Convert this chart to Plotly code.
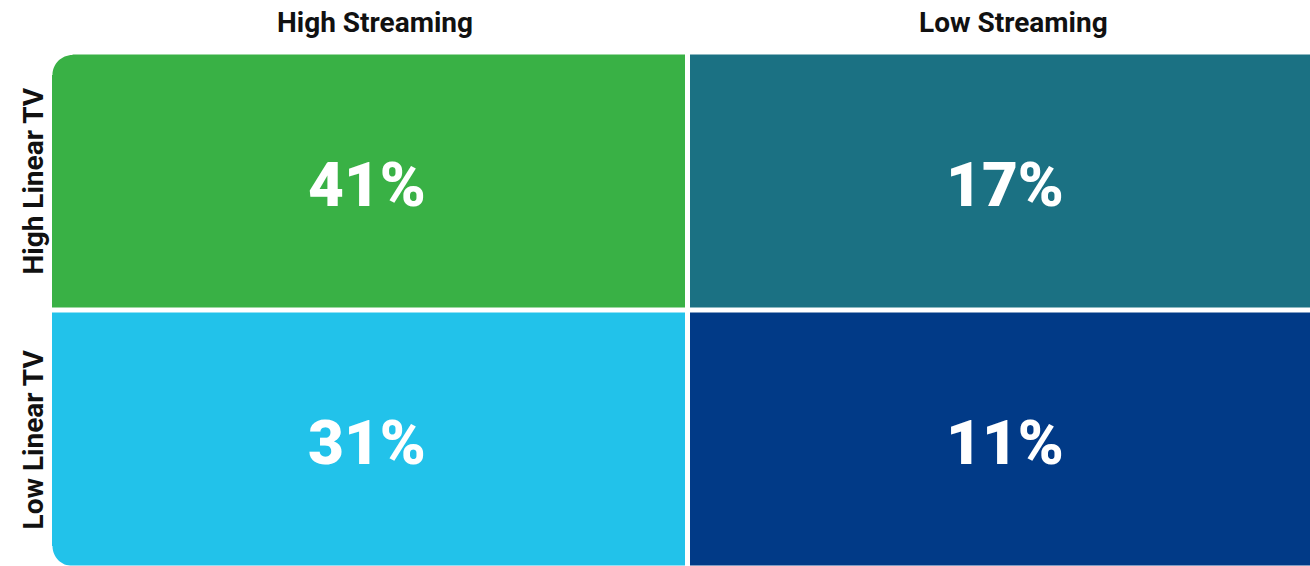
import plotly.graph_objects as go

# Share of viewers by linear-TV vs streaming usage
streaming_groups = ["High Streaming", "Low Streaming"]
linear_groups = ["Low Linear TV", "High Linear TV"]  # bottom row first
shares = [
    [31, 11],  # Low Linear TV
    [41, 17],  # High Linear TV
]

NAVY, TEAL, SKY, GREEN = "#013A87", "#1B7183", "#22C2EA", "#39B145"
zmin, zmax = 11, 41


def stop(v):
    return (v - zmin) / (zmax - zmin)


colorscale = [[0.0, NAVY], [stop(17), TEAL], [stop(31), SKY], [1.0, GREEN]]

W, H = 1310, 566
ML, MT = 50, 52
GAP = 5
UX = 638.0   # pixels per category along x
UY = 258.0   # pixels per category along y
x_lo = -0.5
x_hi = x_lo + (W - ML) / UX
y_lo = -0.5 + (GAP / 2) / UY
y_hi = y_lo + (H - MT) / UY

fig = go.Figure(
    go.Heatmap(
        z=shares,
        x=[0, 1],
        y=[0, 1],
        colorscale=colorscale,
        zmin=zmin,
        zmax=zmax,
        showscale=False,
        xgap=GAP,
        ygap=GAP,
        hoverinfo="skip",
    )
)

# Rounded outer corners on the left side of the grid
R = 20
rx, ry = R / UX, R / UY
k = 0.5523
x0 = x_lo + (GAP / 2) / UX
ytop = 1.5 - (GAP / 2) / UY
ybot = -0.5 + (GAP / 2) / UY
ex, ey = 3 / UX, 3 / UY

top_left = (
    f"M {x0 - ex},{ytop + ey} L {x0 - ex},{ytop - ry} L {x0},{ytop - ry} "
    f"C {x0},{ytop - ry + k * ry} {x0 + rx - k * rx},{ytop} {x0 + rx},{ytop} "
    f"L {x0 + rx},{ytop + ey} Z"
)
bottom_left = (
    f"M {x0 - ex},{ybot - ey} L {x0 - ex},{ybot + ry} L {x0},{ybot + ry} "
    f"C {x0},{ybot + ry - k * ry} {x0 + rx - k * rx},{ybot} {x0 + rx},{ybot} "
    f"L {x0 + rx},{ybot - ey} Z"
)
shapes = [
    dict(type="path", path=p, xref="x", yref="y", fillcolor="white",
         line=dict(width=0), layer="above")
    for p in (top_left, bottom_left)
]

plot_w = W - ML
plot_h = H - MT
label_font = dict(family="Roboto", size=28, color="#111111", weight=700)
annotations = []

# Cell values
for j, row in enumerate(shares):
    for i, v in enumerate(row):
        annotations.append(dict(
            x=i, y=j, xref="x", yref="y", text=f"{v}%", showarrow=False,
            xshift=-2, yshift=-3,
            font=dict(family="Roboto", size=62, color="white", weight=900),
            xanchor="center", yanchor="middle",
        ))

for i, name in enumerate(streaming_groups):
    annotations.append(dict(
        x=i, y=(H - 23) / plot_h, xref="x", yref="paper",
        text=name, showarrow=False, xshift=6,
        font=label_font, xanchor="center", yanchor="middle",
    ))
for j, name in enumerate(linear_groups):
    annotations.append(dict(
        x=(33 - ML) / plot_w, y=j, xref="paper", yref="y",
        text=name, showarrow=False, textangle=-90,
        font=label_font, xanchor="center", yanchor="middle",
    ))

fig.update_layout(
    width=W,
    height=H,
    margin=dict(l=ML, r=0, t=MT, b=0),
    paper_bgcolor="white",
    plot_bgcolor="white",
    shapes=shapes,
    annotations=annotations,
    xaxis=dict(range=[x_lo, x_hi], visible=False, fixedrange=True),
    yaxis=dict(range=[y_lo, y_hi], visible=False, fixedrange=True),
)

fig.write_html("out.html")
